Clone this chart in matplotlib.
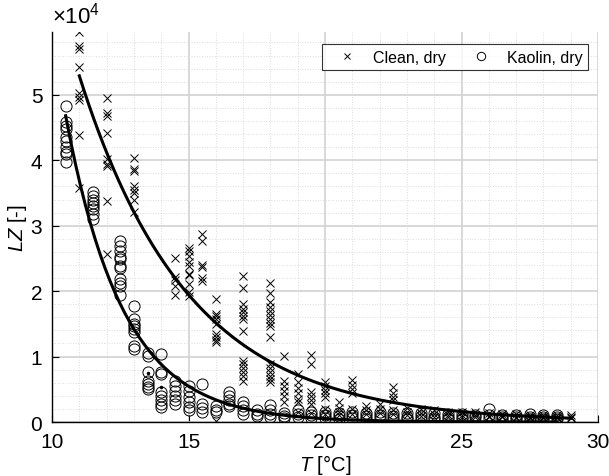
import numpy as np
import matplotlib
matplotlib.use("Agg")
import matplotlib.pyplot as plt
from matplotlib.ticker import MultipleLocator

plt.rcParams['font.family'] = ['Liberation Sans', 'DejaVu Sans']
plt.rcParams['mathtext.fontset'] = 'custom'
plt.rcParams['mathtext.rm'] = 'Liberation Sans'
plt.rcParams['mathtext.it'] = 'Liberation Sans:italic'

# LZ values in units of 1e4, grouped by temperature [degC]
clean_T = [11, 12, 13, 14.5, 15, 15.5, 16, 17, 18, 18.5, 19, 19.5, 20, 20.5,
           21, 21.5, 22, 22.5, 23, 23.5, 24, 24.5, 25, 25.5, 26, 26.5, 27,
           27.5, 28, 28.5, 29]
clean_LZ = [
    [5.96, 5.75, 5.70, 5.43, 5.03, 4.97, 4.92, 4.39, 3.58],
    [4.95, 4.72, 4.68, 4.42, 4.02, 3.94, 3.91, 3.38, 2.57],
    [4.04, 3.87, 3.84, 3.60, 3.55, 3.50, 3.40, 3.21],
    [2.50, 2.22, 2.17, 2.08, 1.94],
    [2.66, 2.61, 2.54, 2.45, 2.38, 2.26, 2.24, 2.11, 1.99, 1.93],
    [2.87, 2.77, 2.40, 2.37, 2.20, 2.16],
    [1.88, 1.65, 1.62, 1.57, 1.50, 1.35, 1.30, 1.25, 1.22, 0.02],
    [2.23, 2.05, 1.80, 1.73, 1.68, 1.62, 1.57, 1.39, 0.93, 0.88, 0.83, 0.76, 0.70, 0.63],
    [2.13, 1.97, 1.83, 1.76, 1.70, 1.64, 1.58, 1.52, 1.47, 1.30, 0.89, 0.82, 0.76, 0.70, 0.65, 0.61],
    [1.01, 0.63, 0.55, 0.47, 0.39, 0.31],
    [0.73, 0.61, 0.52, 0.44, 0.35, 0.31, 0.15],
    [1.02, 0.89, 0.46, 0.40, 0.34, 0.27, 0.14],
    [0.61, 0.55, 0.49, 0.44, 0.38, 0.20, 0.12],
    [0.30, 0.22, 0.15, 0.10],
    [0.64, 0.57, 0.50, 0.44, 0.20, 0.12],
    [0.25, 0.18, 0.12],
    [0.28, 0.20, 0.13],
    [0.53, 0.45, 0.38, 0.34, 0.18, 0.12],
    [0.22, 0.15, 0.10],
    [0.20, 0.14, 0.09],
    [0.18, 0.12, 0.08],
    [0.16, 0.11, 0.08],
    [0.15, 0.10, 0.07],
    [0.15, 0.10, 0.07],
    [0.14, 0.09, 0.07],
    [0.12, 0.09, 0.07],
    [0.12, 0.08, 0.06],
    [0.11, 0.08, 0.06],
    [0.10, 0.08, 0.06],
    [0.10, 0.08, 0.06],
    [0.10, 0.08, 0.06],
]

kaolin_T = [10.5, 11.5, 12.5, 13, 13.5, 14, 14.5, 15, 15.5, 16, 16.5, 17,
            17.5, 18, 18.5, 19, 19.5, 20, 20.5, 21, 21.5, 22, 22.5, 23,
            23.5, 24, 24.5, 25, 25.5, 26, 26.5, 27, 27.5, 28, 28.5]
kaolin_LZ = [
    [4.83, 4.59, 4.53, 4.48, 4.36, 4.30, 4.20, 4.13, 4.10, 3.98],
    [3.52, 3.46, 3.40, 3.35, 3.30, 3.26, 3.18, 3.10],
    [2.77, 2.69, 2.61, 2.52, 2.49, 2.39, 2.35, 2.18, 2.13, 2.08, 1.94],
    [1.77, 1.57, 1.50, 1.46, 1.42, 1.38, 1.16, 1.12],
    [1.05, 1.01, 0.76, 0.63, 0.58, 0.54, 0.50],
    [1.04, 0.76, 0.73, 0.46, 0.40, 0.33, 0.27, 0.23],
    [0.63, 0.55, 0.48, 0.40, 0.33, 0.28],
    [0.55, 0.47, 0.38, 0.30, 0.23, 0.18],
    [0.58, 0.27, 0.22, 0.15],
    [0.24, 0.19, 0.15],
    [0.46, 0.40, 0.34, 0.27, 0.24],
    [0.30, 0.24, 0.19, 0.12],
    [0.18, 0.12, 0.09],
    [0.26, 0.18, 0.12, 0.08],
    [0.14, 0.09, 0.06],
    [0.18, 0.12, 0.07],
    [0.15, 0.10, 0.06],
    [0.16, 0.11, 0.06],
    [0.14, 0.09, 0.05],
    [0.15, 0.10, 0.06],
    [0.14, 0.09, 0.05],
    [0.16, 0.10, 0.06],
    [0.14, 0.09, 0.05],
    [0.13, 0.08, 0.05],
    [0.14, 0.09, 0.05],
    [0.13, 0.08, 0.05],
    [0.12, 0.08, 0.05],
    [0.12, 0.08, 0.04],
    [0.11, 0.07, 0.01],
    [0.20, 0.10, 0.06],
    [0.11, 0.07, 0.04],
    [0.10, 0.07, 0.04],
    [0.12, 0.08, 0.05],
    [0.10, 0.07, 0.04],
    [0.10, 0.07, 0.04],
]

# single points plotted as dots
dot_T = [13.5, 14]
dot_LZ = [0.75, 0.54]

# exponential fits LZ = A*exp(-k*(T-T0)), A in 1e4
clean_fit = dict(A=5.29, k=0.25, T0=11.0, T1=29.0)
kaolin_fit = dict(A=4.68, k=0.477, T0=10.5, T1=28.5)

scale = 1e4


def flatten(T_list, LZ_list):
    xs, ys = [], []
    for t, vals in zip(T_list, LZ_list):
        xs += [t] * len(vals)
        ys += vals
    return np.array(xs), np.array(ys) * scale


fig = plt.figure(figsize=(6.09, 4.77), dpi=100)
ax = fig.add_axes([0.0854, 0.1132, 0.8966, 0.8176])

cx, cy = flatten(clean_T, clean_LZ)
kx, ky = flatten(kaolin_T, kaolin_LZ)

ax.plot(cx, cy, ls='none', marker='x', ms=5.5, mew=0.7, color='black', label='Clean, dry')
ax.plot(kx, ky, ls='none', marker='o', ms=8, mew=0.7, mfc='none', color='black', label='Kaolin, dry')
ax.plot(dot_T, np.array(dot_LZ) * scale, ls='none', marker='.', ms=3, color='black')

for fit in (clean_fit, kaolin_fit):
    t = np.linspace(fit['T0'], fit['T1'], 200)
    ax.plot(t, fit['A'] * scale * np.exp(-fit['k'] * (t - fit['T0'])), color='black', lw=2.2)

ax.set_xlim(10, 30)
ax.set_ylim(0, 5.96e4)
ax.set_xticks([10, 15, 20, 25, 30])
ax.set_yticks(np.arange(0, 6) * scale)
ax.set_yticklabels([str(i) for i in range(6)])
ax.xaxis.set_minor_locator(MultipleLocator(1))
ax.yaxis.set_minor_locator(MultipleLocator(0.2 * scale))
ax.grid(which='major', color='#d2d2d2', lw=1.2, ls='-')
ax.grid(which='minor', color='#dcdcdc', lw=0.7, ls=':')
ax.set_axisbelow(True)

for side in ('top', 'right'):
    ax.spines[side].set_visible(False)
ax.spines['left'].set_linewidth(1.0)
ax.spines['bottom'].set_linewidth(1.0)
ax.tick_params(which='major', direction='in', length=5, width=0.8, labelsize=15)
ax.tick_params(axis='x', pad=7)
ax.tick_params(axis='y', pad=7)
ax.tick_params(which='minor', length=0)

ax.text(0.0, 1.012, r'$\times 10^{4}$', transform=ax.transAxes, fontsize=16, ha='left', va='bottom')

ax.set_xlabel(r'$T$ [°C]', fontsize=14.5, labelpad=1)
ax.set_ylabel(r'$LZ$ [-]', fontsize=14.5, labelpad=1)

leg = ax.legend(loc='upper right', ncol=2, bbox_to_anchor=(0.982, 0.969), frameon=True,
                fancybox=False, edgecolor='black', fontsize=11.5, borderpad=0.35,
                handlelength=2.5, handletextpad=0.4, columnspacing=0.9, markerscale=0.75,
                borderaxespad=0)
leg.get_frame().set_linewidth(0.8)

fig.savefig('out.png', dpi=100)
